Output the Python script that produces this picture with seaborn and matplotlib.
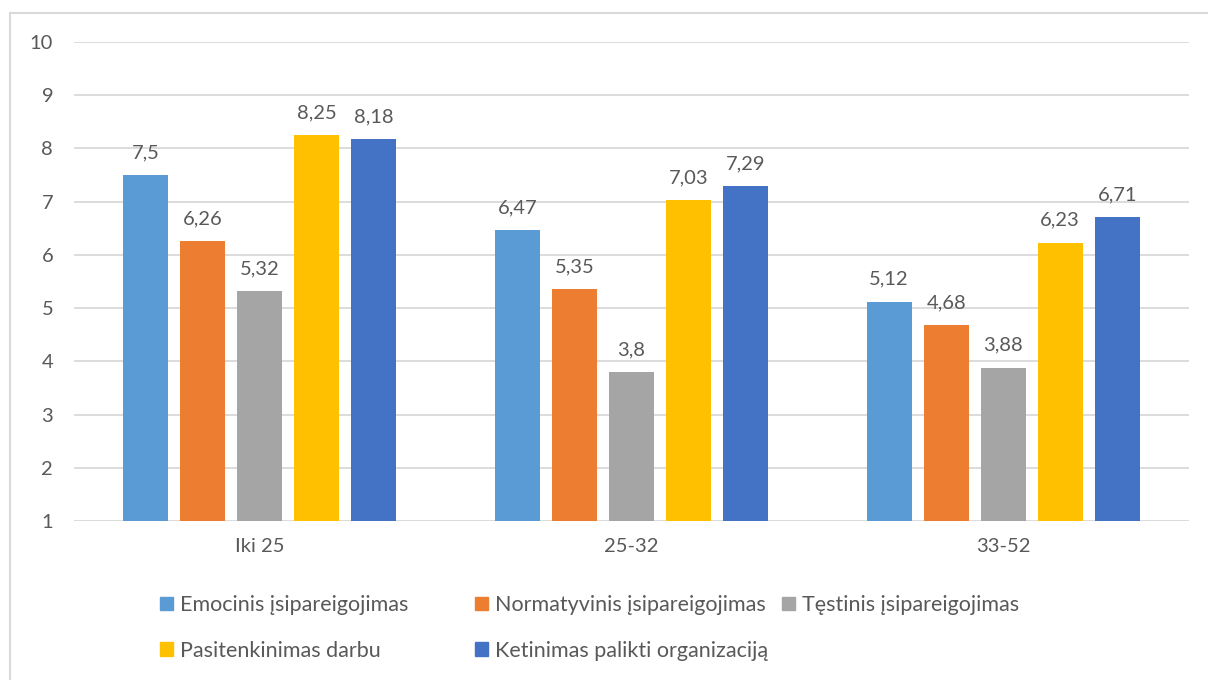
import matplotlib
matplotlib.use("Agg")
import matplotlib.pyplot as plt
import matplotlib.patches as mpatches
import seaborn as sns
import pandas as pd

groups = ["Iki 25", "25-32", "33-52"]
series = ["Emocinis įsipareigojimas", "Normatyvinis įsipareigojimas",
          "Tęstinis įsipareigojimas", "Pasitenkinimas darbu",
          "Ketinimas palikti organizaciją"]
emocinis = [7.5, 6.47, 5.12]
normatyvinis = [6.26, 5.35, 4.68]
testinis = [5.32, 3.8, 3.88]
pasitenkinimas = [8.25, 7.03, 6.23]
ketinimas = [8.18, 7.29, 6.71]
colors = ["#5B9BD5", "#ED7D31", "#A5A5A5", "#FFC000", "#4472C4"]
yticks = [1, 2, 3, 4, 5, 6, 7, 8, 9, 10]

values = [emocinis, normatyvinis, testinis, pasitenkinimas, ketinimas]
rows = []
for s, vals in zip(series, values):
    for g, v in zip(groups, vals):
        rows.append({"group": g, "series": s, "value": v})
df = pd.DataFrame(rows)

sns.set_style("white")
plt.rcParams["font.family"] = ["Lato", "DejaVu Sans"]
text_color = "#595959"
grid_color = "#D9D9D9"

fig = plt.figure(figsize=(12.08, 6.8), dpi=100)
ax = fig.add_axes([74 / 1208, 1 - 521 / 680, (1189 - 74) / 1208, (521 - 42) / 680])

sns.barplot(data=df, x="group", y="value", hue="series", order=groups,
            hue_order=series, palette=colors, width=0.767, gap=0.21,
            errorbar=None, ax=ax, legend=False, saturation=1, linewidth=0)

ax.set_ylim(1, 10)
ax.set_yticks(yticks)
ax.set_yticklabels([str(t) for t in yticks])
ax.set_xlim(-0.5, 2.5)
ax.set_xlabel("")
ax.set_ylabel("")
for sp in ax.spines.values():
    sp.set_visible(False)
ax.grid(axis="y", color=grid_color, linewidth=1.3)
ax.set_axisbelow(True)
ax.tick_params(axis="both", length=0, labelsize=14.5, colors=text_color)
ax.tick_params(axis="y", pad=15)
ax.tick_params(axis="x", pad=12)

for cont in ax.containers:
    ax.bar_label(cont, fmt=lambda v: f"{v:g}".replace(".", ","), padding=10,
                 fontsize=14.5, color=text_color)

# Legend as three column groups (row-major like Excel)
handles = [mpatches.Patch(color=c) for c in colors]
col_defs = [([0, 3], 160), ([1, 4], 475), ([2], 782)]
for idx, xpx in col_defs:
    leg = fig.legend([handles[i] for i in idx], [series[i] for i in idx],
                     loc="upper left", bbox_to_anchor=(xpx / 1208, 1 - 595 / 680),
                     frameon=False, fontsize=15.5, handlelength=0.6, handleheight=0.6,
                     handletextpad=0.33, labelspacing=1.19, borderaxespad=0,
                     borderpad=0)
    for t in leg.get_texts():
        t.set_color(text_color)

# Chart border
fig.patches.append(mpatches.Rectangle((10 / 1208, -0.1), 1.2, 1.1 - 13 / 680,
                                      transform=fig.transFigure, fill=False,
                                      edgecolor=grid_color, linewidth=1.5))

fig.savefig("out.png", dpi=100)
